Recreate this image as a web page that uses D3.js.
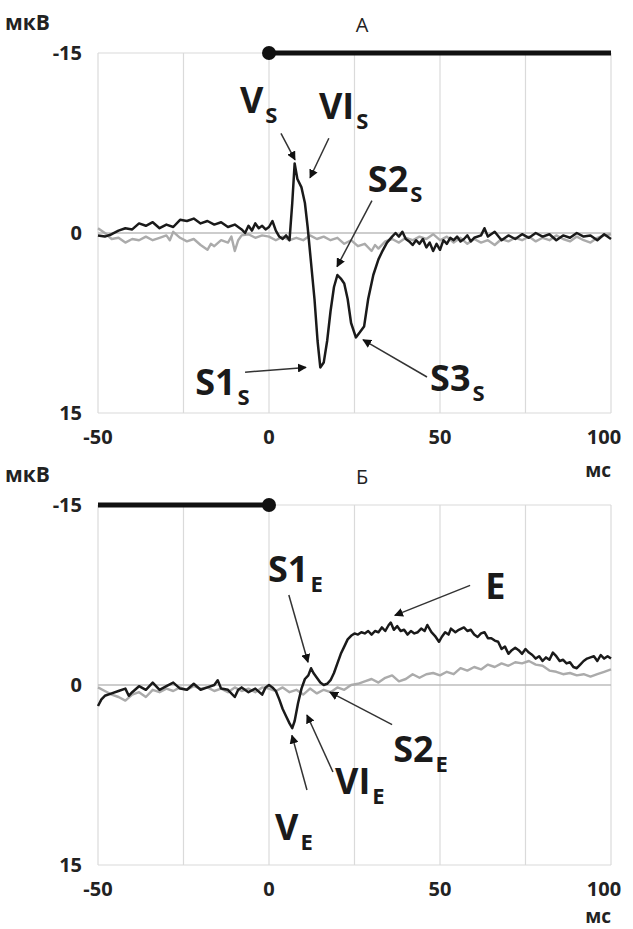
<!DOCTYPE html>
<html>
<head>
<meta charset="utf-8">
<script src="https://cdn.jsdelivr.net/npm/d3@7"></script>
<style>
  body { margin: 0; background: #fff; }
  svg { display: block; font-family: "Open Sans", "DejaVu Sans", sans-serif; }
</style>
</head>
<body>
<svg id="chart"></svg>
<script>
// Time axis (ms) and ticks
const xTicks = [-50, 0, 50, 100];
const xGrid = [-50, -25, 0, 25, 50, 75, 100];
const yTicks = [-15, 0, 15];

// Panel A: [ms, мкВ] pairs, negative is up
const blackA = [
  [-50, 0.2], [-48, 0.3], [-46, 0.1], [-44, -0.2], [-42, -0.4], [-40, -0.3], [-38, -0.8], [-36, -0.6],
  [-34, -0.9], [-32, -0.4], [-30, -0.7], [-28, -0.5], [-26, -1.1], [-24, -1.0], [-22, -1.2], [-20, -0.8],
  [-18, -1.0], [-16, -0.7], [-14, -0.9], [-12, -0.5], [-10, -0.7], [-8, -0.3], [-7, 0.0], [-6, -0.6],
  [-5, -0.2], [-4, -0.8], [-3, -0.4], [-2, -0.6], [-1, -0.3], [0, -0.5], [1, -1.0], [2, -0.2], [3, 0.3],
  [4, 0.5], [5, 0.2], [6, 0.6], [6.8, -2.5], [7.5, -5.8], [8.3, -4.5], [9.5, -3.8], [10.5, -2.5],
  [11.3, -0.5], [12.3, 2.5], [13.3, 5.5], [14.2, 9.0], [15, 11.2], [16, 10.8], [17, 9.0], [18, 6.5],
  [19, 4.5], [20, 3.5], [21, 3.8], [22, 4.2], [23, 5.5], [24, 7.5], [25.4, 8.7], [26.5, 8.3], [27.8, 7.8],
  [29, 5.5], [30.5, 3.5], [32, 2.2], [33, 1.6], [34.5, 0.8], [36, 0.3], [37, 0.0], [38, 0.3], [39, -0.1],
  [40, 0.5], [41, 0.7], [42, 1.0], [43, 0.6], [44, 0.9], [45, 0.5], [46, 1.2], [47, 0.8], [48, 1.5],
  [49, 0.9], [50, 1.4], [51, 0.6], [52, 0.9], [53, 0.4], [54, 0.6], [55, 0.3], [56, 0.7], [57, 0.5],
  [58, 0.2], [59, 0.7], [60, 0.4], [62, 0.2], [63, -0.4], [64, 0.3], [66, -0.1], [68, 0.6], [70, 0.2],
  [72, 0.5], [74, 0.1], [76, 0.4], [78, 0.0], [80, 0.3], [82, 0.1], [84, 0.6], [86, 0.2], [88, 0.4],
  [90, 0.0], [92, 0.3], [94, 0.2], [96, 0.6], [98, 0.1], [100, 0.5]
];
const grayA = [
  [-50, -0.4], [-48, 0.0], [-46, 0.5], [-44, 0.4], [-42, 0.8], [-40, 0.5], [-38, 0.6], [-36, 0.3],
  [-34, 0.6], [-32, 0.4], [-30, 0.2], [-29, 0.6], [-28, -0.1], [-26, 0.4], [-24, 0.7], [-22, 0.5],
  [-20, 1.0], [-18, 1.4], [-17, 0.9], [-16, 1.1], [-14, 0.6], [-12, 0.8], [-11, 0.3], [-10, 1.5],
  [-9, 0.6], [-8, 0.2], [-6, 0.1], [-4, 0.4], [-2, 0.2], [0, 0.3], [2, 0.6], [4, 0.3], [6, 0.6],
  [8, 0.4], [10, 0.6], [12, 0.2], [14, 0.5], [16, 0.3], [18, 0.6], [20, 0.4], [22, 0.9], [24, 0.6],
  [26, 1.1], [28, 0.9], [30, 1.5], [31, 1.0], [32, 1.3], [34, 0.7], [36, 0.5], [38, 0.8], [40, 0.4],
  [42, 0.6], [44, 0.3], [46, 0.5], [48, 0.1], [50, 0.6], [52, 0.3], [54, 0.8], [56, 0.4], [58, 0.9],
  [60, 0.5], [62, 0.8], [64, 0.6], [66, 1.0], [68, 0.5], [70, 0.7], [72, 0.4], [74, 0.6], [76, 0.3],
  [78, 0.7], [80, 0.4], [82, 0.6], [84, 0.2], [86, 0.5], [88, 0.7], [90, 0.3], [92, 0.6], [94, 0.8],
  [96, 0.4], [98, 0.2], [100, 0.1]
];

// Panel Б
const blackB = [
  [-50, 1.75], [-49, 1.2], [-48, 0.9], [-46, 0.7], [-44, 0.5], [-42, 0.3], [-41, 0.9], [-40, 0.6],
  [-38, 0.1], [-36, 0.4], [-34, -0.2], [-32, 0.4], [-30, 0.1], [-28, -0.2], [-26, 0.3], [-24, 0.4],
  [-22, -0.1], [-20, 0.4], [-18, 0.2], [-16, 0.0], [-15, -0.4], [-14, 0.3], [-12, 0.4], [-10, 1.0],
  [-9, 0.4], [-8, 0.2], [-6, 0.6], [-4, 0.3], [-2, 0.8], [-1, 0.2], [0, 0.0], [1, 0.2], [2, 0.5],
  [3, 1.2], [4, 2.0], [5, 2.6], [6, 3.2], [6.8, 3.6], [7.5, 3.0], [8.5, 1.5], [9.5, 0.3], [10.5, -0.5],
  [11.5, -0.8], [12.3, -1.4], [13, -1.0], [14, -0.6], [15, -0.2], [16, 0.0], [17, -0.1], [18, -0.4],
  [19, -1.0], [20, -1.8], [21, -2.6], [22, -3.2], [23, -3.8], [24, -4.1], [25, -4.3], [26, -4.2],
  [27, -4.4], [28, -4.3], [29, -4.5], [30, -4.2], [31, -4.5], [32, -4.4], [33, -4.8], [34, -4.5],
  [35, -5.0], [35.6, -5.2], [36.5, -4.6], [37.5, -4.9], [38.5, -4.5], [39.5, -4.6], [40.5, -4.2],
  [41.5, -4.5], [42.5, -4.3], [43.5, -4.4], [44.5, -4.7], [45.5, -4.5], [46.3, -5.0], [47.5, -4.4],
  [48.5, -4.1], [49.7, -3.6], [50.5, -4.0], [51.5, -4.4], [52.5, -4.2], [53.2, -4.7], [54.5, -4.4],
  [55.5, -4.6], [57, -4.8], [58, -4.5], [59, -4.6], [60, -4.2], [61, -4.0], [62, -4.3], [63, -4.4],
  [64, -3.9], [65, -3.9], [66, -3.7], [67, -3.6], [68, -3.0], [69, -3.2], [70, -2.6], [71, -2.9],
  [72, -3.1], [73, -2.9], [74, -2.6], [75, -3.0], [76, -2.7], [77, -2.5], [78, -2.2], [79, -2.4],
  [80, -2.0], [81, -2.3], [82, -2.1], [83, -2.7], [84, -2.4], [85, -2.0], [86, -2.1], [87, -1.8],
  [88, -1.9], [89, -1.5], [90, -1.4], [91, -1.7], [92, -2.0], [93, -2.2], [94, -2.3], [95, -2.4],
  [96, -2.0], [97, -2.5], [98, -2.2], [99, -2.4], [100, -2.2]
];
const grayB = [
  [-50, 0.2], [-48, 0.5], [-46, 0.8], [-44, 1.0], [-42, 1.3], [-40, 0.8], [-38, 0.6], [-36, 1.0],
  [-34, 0.4], [-32, 0.6], [-30, 0.3], [-28, 0.5], [-26, 0.2], [-24, 0.4], [-22, 0.1], [-20, 0.3],
  [-18, 0.2], [-16, 0.5], [-14, 0.3], [-12, 0.6], [-10, 0.2], [-8, 0.5], [-6, 0.3], [-4, 0.6],
  [-2, 0.2], [0, 0.3], [2, 0.5], [4, 0.2], [6, 0.6], [8, 0.4], [10, 0.8], [12, 0.3], [14, 0.7],
  [16, 0.4], [18, 0.6], [20, 0.2], [22, 0.4], [24, 0.0], [26, -0.1], [28, -0.3], [30, -0.5],
  [32, -0.2], [34, -0.6], [36, -0.8], [38, -0.3], [40, -0.5], [42, -0.9], [44, -0.6], [46, -0.9],
  [48, -1.0], [50, -0.8], [52, -1.1], [54, -0.9], [56, -1.4], [58, -1.2], [60, -1.5], [62, -1.3],
  [64, -1.7], [66, -1.5], [68, -1.8], [70, -1.6], [72, -1.9], [74, -1.8], [76, -2.0], [78, -1.7],
  [80, -1.6], [82, -1.2], [84, -1.1], [86, -0.9], [88, -1.0], [90, -0.8], [92, -0.9], [94, -0.7],
  [96, -0.9], [98, -1.1], [100, -1.3]
];

// Stimulus intervals (ms); dot marks the 0 end
const stimA = [0, 100];
const stimB = [-50, 0];

// Annotations: label, subscript, label anchor [ms, мкВ], arrow from/to [ms, мкВ]
const notesA = [
  {name: "V", sub: "S", at: [-8.5, -10.0], from: [3.5, -8.3], to: [7.6, -6.1]},
  {name: "VI", sub: "S", at: [14.6, -9.5], from: [17.5, -7.9], to: [12.0, -4.6]},
  {name: "S2", sub: "S", at: [28.9, -3.4], from: [30.1, -2.7], to: [19.9, 2.8]},
  {name: "S1", sub: "S", at: [-21.6, 13.5], from: [-7, 11.6], to: [10.8, 11.2]},
  {name: "S3", sub: "S", at: [47.1, 13.2], from: [46.2, 12.0], to: [27.5, 8.9]}
];
const notesB = [
  {name: "S1", sub: "E", at: [-0.3, -8.6], from: [5.8, -7.5], to: [11.4, -1.9]},
  {name: "E", sub: "", at: [63.2, -7.2], from: [58.8, -8.3], to: [36.8, -5.8]},
  {name: "S2", sub: "E", at: [36.3, 6.4], from: [36.0, 3.3], to: [17.8, 0.6]},
  {name: "VI", sub: "E", at: [19.3, 9.1], from: [18.7, 7.25], to: [11.1, 2.5]},
  {name: "V", sub: "E", at: [1.75, 12.9], from: [11.1, 8.75], to: [6.7, 4.2]}
];

const width = 633;
const height = 929;
const marginLeft = 98;
const marginRight = 22;
const panelHeight = 360;

const svg = d3.select("#chart")
    .attr("width", width)
    .attr("height", height);

svg.append("defs").append("marker")
    .attr("id", "arrow")
    .attr("viewBox", "0 0 10 10")
    .attr("refX", 9)
    .attr("refY", 5)
    .attr("markerWidth", 9)
    .attr("markerHeight", 9)
    .attr("markerUnits", "userSpaceOnUse")
    .attr("orient", "auto")
  .append("path")
    .attr("d", "M0,0 L10,5 L0,10 z")
    .attr("fill", "#111");

const xScale = d3.scaleLinear()
    .domain([-50, 100])
    .range([marginLeft, width - marginRight]);

function drawPanel(top, title, black, gray, stim, notes, unitY) {
	const yScale = d3.scaleLinear()
	    .domain([-15, 15])
	    .range([top, top + panelHeight]);

	const g = svg.append("g");

	// grid
	g.selectAll("line.vgrid")
		.data(xGrid)
		.join("line")
		.attr("x1", d => xScale(d))
		.attr("x2", d => xScale(d))
		.attr("y1", yScale(-15))
		.attr("y2", yScale(15))
		.attr("stroke", "#dadada")
		.attr("stroke-width", 1.2);

	g.selectAll("line.hgrid")
		.data(yTicks)
		.join("line")
		.attr("x1", xScale(-50))
		.attr("x2", xScale(100))
		.attr("y1", d => yScale(d))
		.attr("y2", d => yScale(d))
		.attr("stroke", d => d === 0 ? "#bdbdbd" : "#dadada")
		.attr("stroke-width", d => d === 0 ? 1.6 : 1.2);

	// y tick labels
	g.selectAll("text.ytick")
		.data(yTicks)
		.join("text")
		.attr("x", 82)
		.attr("y", d => yScale(d))
		.attr("dy", "0.35em")
		.attr("text-anchor", "end")
		.attr("font-size", 20)
		.attr("font-weight", 700)
		.attr("fill", "#222")
		.text(d => d);

	// x tick labels
	g.selectAll("text.xtick")
		.data(xTicks)
		.join("text")
		.attr("x", (d, i) => xScale(d) - (i === xTicks.length - 1 ? 7 : 0))
		.attr("y", yScale(15) + 31)
		.attr("text-anchor", "middle")
		.attr("font-size", 20)
		.attr("font-weight", 700)
		.attr("fill", "#222")
		.text(d => d);

	g.append("text")
		.attr("x", 5)
		.attr("y", top - 23)
		.attr("font-size", 21)
		.attr("font-weight", 700)
		.attr("fill", "#222")
		.text("мкВ");

	g.append("text")
		.attr("x", xScale(100))
		.attr("y", unitY)
		.attr("text-anchor", "end")
		.attr("font-size", 19)
		.attr("font-weight", 700)
		.attr("fill", "#222")
		.text("мс");

	g.append("text")
		.attr("x", 362)
		.attr("y", top - 21)
		.attr("text-anchor", "middle")
		.attr("font-size", 20)
		.attr("fill", "#222")
		.text(title);

	// stimulus bar
	g.append("line")
		.attr("x1", xScale(stim[0]))
		.attr("x2", xScale(stim[1]))
		.attr("y1", yScale(-15))
		.attr("y2", yScale(-15))
		.attr("stroke", "#111")
		.attr("stroke-width", 5);
	g.append("circle")
		.attr("cx", xScale(0))
		.attr("cy", yScale(-15))
		.attr("r", 7)
		.attr("fill", "#111");

	const line = d3.line()
		.x(d => xScale(d[0]))
		.y(d => yScale(d[1]));

	g.append("path")
		.datum(gray)
		.attr("d", line)
		.attr("fill", "none")
		.attr("stroke", "#ababab")
		.attr("stroke-width", 2.4)
		.attr("stroke-linejoin", "round");

	g.append("path")
		.datum(black)
		.attr("d", line)
		.attr("fill", "none")
		.attr("stroke", "#1a1a1a")
		.attr("stroke-width", 2.5)
		.attr("stroke-linejoin", "round");

	// arrows
	g.selectAll("line.arrow")
		.data(notes)
		.join("line")
		.attr("x1", d => xScale(d.from[0]))
		.attr("y1", d => yScale(d.from[1]))
		.attr("x2", d => xScale(d.to[0]))
		.attr("y2", d => yScale(d.to[1]))
		.attr("stroke", "#333")
		.attr("stroke-width", 1.5)
		.attr("marker-end", "url(#arrow)");

	const labels = g.selectAll("text.note")
		.data(notes)
		.join("text")
		.attr("x", d => xScale(d.at[0]))
		.attr("y", d => yScale(d.at[1]))
		.attr("font-size", 36)
		.attr("font-weight", 700)
		.attr("fill", "#1a1a1a");
	labels.append("tspan").text(d => d.name);
	labels.append("tspan")
		.attr("dy", 10)
		.attr("dx", 2)
		.attr("font-size", 22)
		.text(d => d.sub);
}

drawPanel(53, "А", blackA, grayA, stimA, notesA, 477);
drawPanel(505, "Б", blackB, grayB, stimB, notesB, 923);
</script>
</body>
</html>
